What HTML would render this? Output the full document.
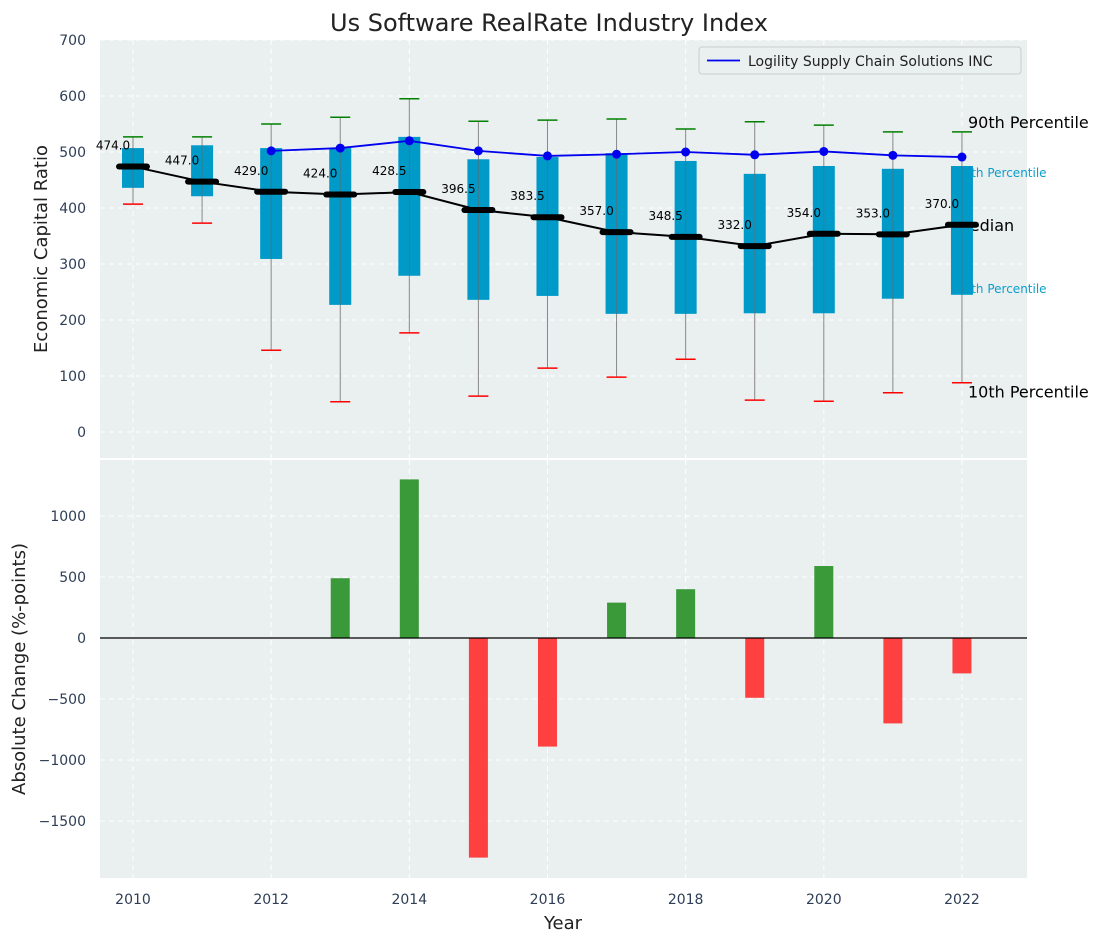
<!DOCTYPE html>
<html><head><meta charset="utf-8"><style>
body{margin:0;background:#fff;font-family:"Liberation Sans","DejaVu Sans",sans-serif}
svg text{font-family:"DejaVu Sans","Liberation Sans",sans-serif}
</style></head><body>
<svg id="c" width="1103" height="942" xmlns="http://www.w3.org/2000/svg"></svg>
<script>
const years=[2010,2011,2012,2013,2014,2015,2016,2017,2018,2019,2020,2021,2022];
const p10=[407,373,146,54,177,64,114,98,130,57,55,70,88];
const p25=[436,421,309,227,279,236,243,211,211,212,212,238,245];
const medians=[474,447,429,424,428.5,396.5,383.5,357,348.5,332,354,353,370];
const p75=[507,512,507,507,527,487,491,498,484,461,475,470,475];
const p90=[527,527,550,562,595,555,557,559,541,554,548,536,536];
const company=[null,null,502,507,520,502,493,496,500,495,501,494,491];
const changes=[0,0,0,490,1300,-1800,-890,290,400,-490,590,-700,-290];
const topTicks=[0,100,200,300,400,500,600,700];
const botTicks=[-1500,-1000,-500,0,500,1000];
const xTicks=[2010,2012,2014,2016,2018,2020,2022];
const NS="http://www.w3.org/2000/svg",svg=document.getElementById('c');
function el(t,a,txt){const e=document.createElementNS(NS,t);for(const k in a)e.setAttribute(k,a[k]);if(txt!==undefined)e.textContent=txt;svg.appendChild(e);return e;}
const L=100,R=1027;
const X=v=>133+(v-2010)*69.08;
const Y1=v=>432-v*0.56;
const Y2=v=>638-v*0.122;
let e;
e=el('rect',{x:L,y:40,width:R-L,height:418,fill:'#eaeff0'});
e=el('rect',{x:L,y:460,width:R-L,height:418,fill:'#eaeff0'});
topTicks.forEach(t=>{el('line',{x1:L,x2:R,y1:Y1(t),y2:Y1(t),stroke:'#fff','stroke-dasharray':'5,4'});
 e=el('text',{x:86,y:Y1(t)+5,'text-anchor':'end','font-size':14,fill:'#2e3e56'},t);});
botTicks.forEach(t=>{el('line',{x1:L,x2:R,y1:Y2(t),y2:Y2(t),stroke:'#fff','stroke-dasharray':'5,4'});
 e=el('text',{x:86,y:Y2(t)+5,'text-anchor':'end','font-size':14,fill:'#2e3e56'},t<0?'\u2212'+(-t):t);});
xTicks.forEach(t=>{el('line',{x1:X(t),x2:X(t),y1:40,y2:458,stroke:'#fff','stroke-dasharray':'5,4'});el('line',{x1:X(t),x2:X(t),y1:460,y2:878,stroke:'#fff','stroke-dasharray':'5,4'});
 e=el('text',{x:X(t),y:904,'text-anchor':'middle','font-size':14,fill:'#2e3e56'},t);});
const lx=X(2022);
[['90th Percentile',lx+6,Y1(p90[12])-4,16,'#000'],['75th Percentile',lx-6,Y1(p75[12])+11,12,'#0a9fcc'],['Median',lx-6,Y1(medians[12])+6,16,'#000'],['25th Percentile',lx-6,Y1(p25[12])-2,12,'#0a9fcc'],['10th Percentile',lx+6,Y1(p10[12])+15,16,'#000']].forEach(a=>{e=el('text',{x:a[1],y:a[2],'font-size':a[3],fill:a[4]},a[0]);});
years.forEach((y,i)=>{const x=X(y);
 e=el('line',{x1:x,x2:x,y1:Y1(p90[i]),y2:Y1(p10[i]),stroke:'#888','stroke-width':1});
 e=el('rect',{x:x-11,y:Y1(p75[i]),width:22,height:Y1(p25[i])-Y1(p75[i]),fill:'#009ac9'});
 el('line',{x1:x,x2:x,y1:Y1(p75[i]),y2:Y1(p25[i]),stroke:'#666','stroke-width':1,opacity:0.6});
 e=el('line',{x1:x-10,x2:x+10,y1:Y1(p90[i]),y2:Y1(p90[i]),stroke:'green','stroke-width':1.5});
 e=el('line',{x1:x-10,x2:x+10,y1:Y1(p10[i]),y2:Y1(p10[i]),stroke:'red','stroke-width':1.5});
});
e=el('polyline',{points:years.map((y,i)=>X(y)+','+Y1(medians[i])).join(' '),fill:'none',stroke:'#000','stroke-width':2});
years.forEach((y,i)=>{const x=X(y);
 e=el('line',{x1:x-14,x2:x+14,y1:Y1(medians[i]),y2:Y1(medians[i]),stroke:'#000','stroke-width':6,'stroke-linecap':'round'});
 e=el('text',{x:x-20,y:Y1(medians[i])-17,'text-anchor':'middle','font-size':12,fill:'#000'},medians[i].toFixed(1));
});
const cp=years.map((y,i)=>company[i]==null?null:[X(y),Y1(company[i])]).filter(p=>p);
e=el('polyline',{points:cp.map(p=>p.join(',')).join(' '),fill:'none',stroke:'#0000ee','stroke-width':1.8});
cp.forEach(p=>{e=el('circle',{cx:p[0],cy:p[1],r:4.5,fill:'#0000ee'});});
years.forEach((y,i)=>{const v=changes[i];if(!v)return;const x=X(y);
 e=el('rect',{x:x-9.5,y:Math.min(Y2(0),Y2(v)),width:19,height:Math.abs(Y2(v)-Y2(0)),fill:v>0?'#3a9a3a':'#ff4040'});});
e=el('line',{x1:L,x2:R,y1:Y2(0),y2:Y2(0),stroke:'#000','stroke-width':1.2});
e=el('rect',{x:699,y:47,width:322,height:27,fill:'#eaeff0',stroke:'#ccc',rx:3});
el('line',{x1:707,x2:740,y1:60.5,y2:60.5,stroke:'#0000ee','stroke-width':1.8});
e=el('text',{x:748,y:66,'font-size':14,fill:'#222'},'Logility Supply Chain Solutions INC');
e=el('text',{x:549,y:31,'text-anchor':'middle','font-size':24,fill:'#222'},'Us Software RealRate Industry Index');
e=el('text',{x:0,y:0,'text-anchor':'middle','font-size':18,fill:'#222',transform:'translate(47,249) rotate(-90)'},'Economic Capital Ratio');
e=el('text',{x:0,y:0,'text-anchor':'middle','font-size':18,fill:'#222',transform:'translate(25,669) rotate(-90)'},'Absolute Change (%-points)');
e=el('text',{x:563,y:929,'text-anchor':'middle','font-size':18,fill:'#222'},'Year');
</script>
</body></html>
